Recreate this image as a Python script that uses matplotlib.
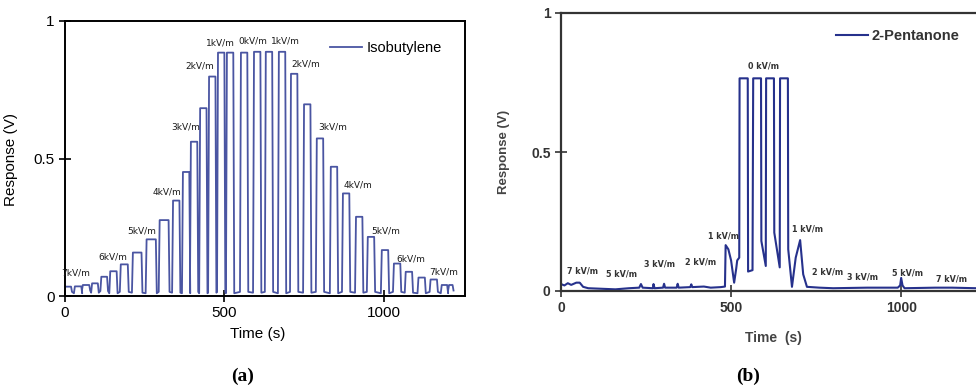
import matplotlib.pyplot as plt
import numpy as np

# ---- panel (a): Isobutylene, pulses ----
pulse_start = [0, 31, 56, 85, 114, 142, 175, 213, 256, 297, 339, 370, 395, 424, 452, 480, 508, 552, 593, 630, 671, 709, 750, 790, 834, 872, 913, 950, 994, 1032, 1069, 1109, 1147, 1182, 1205]
pulse_end = [19, 51, 76, 103, 132, 162, 197, 240, 285, 325, 359, 390, 415, 444, 472, 500, 528, 572, 613, 650, 691, 729, 770, 810, 854, 892, 933, 970, 1014, 1052, 1089, 1129, 1167, 1199, 1216]
pulse_height = [0.034, 0.035, 0.04, 0.046, 0.07, 0.09, 0.115, 0.158, 0.206, 0.276, 0.347, 0.451, 0.561, 0.683, 0.798, 0.885, 0.885, 0.885, 0.888, 0.888, 0.888, 0.808, 0.697, 0.573, 0.47, 0.373, 0.288, 0.215, 0.167, 0.118, 0.088, 0.067, 0.06, 0.04, 0.04]
base_a = [0.015, 0.01, 0.02, 0.012, 0.018, 0.01, 0.015, 0.012, 0.01, 0.015, 0.012, 0.01, 0.015, 0.01, 0.012, 0.015, 0.01, 0.015, 0.012, 0.015, 0.01, 0.015, 0.012, 0.015, 0.01, 0.015, 0.012, 0.015, 0.01, 0.015, 0.012, 0.01, 0.015, 0.01, 0.02]

labels_a = ['7kV/m', '6kV/m', '5kV/m', '4kV/m', '3kV/m', '2kV/m', '1kV/m', '0kV/m', '1kV/m', '2kV/m', '3kV/m', '4kV/m', '5kV/m', '6kV/m', '7kV/m']
label_t_a = [34, 150, 241, 320, 379, 423, 486, 589, 690, 755, 840, 918, 1006, 1085, 1188]
label_v_a = [0.084, 0.141, 0.236, 0.378, 0.615, 0.836, 0.92, 0.927, 0.927, 0.843, 0.615, 0.403, 0.236, 0.134, 0.087]

# ---- panel (b): 2-Pentanone trace ----
time_b = [0, 10, 20, 30, 45, 55, 65, 80, 120, 160, 200, 230, 235, 240, 270, 272, 275, 300, 303, 306, 340, 343, 346, 380, 383, 386, 420, 440, 470, 482, 484, 492, 500, 509, 515, 518, 524, 525, 549, 550, 563, 565, 588, 589, 602, 603, 626, 627, 643, 644, 667, 668, 679, 690, 703, 712, 723, 760, 800, 900, 990, 997, 1000, 1004, 1010, 1100, 1150, 1220]
resp_b = [0.025, 0.02, 0.028, 0.022, 0.03, 0.03, 0.015, 0.01, 0.008, 0.006, 0.01, 0.012, 0.025, 0.012, 0.01, 0.025, 0.01, 0.012, 0.026, 0.012, 0.012, 0.026, 0.012, 0.014, 0.024, 0.014, 0.016, 0.012, 0.014, 0.016, 0.165, 0.15, 0.11, 0.03, 0.08, 0.11, 0.12, 0.765, 0.765, 0.07, 0.075, 0.765, 0.765, 0.18, 0.09, 0.765, 0.765, 0.21, 0.085, 0.765, 0.765, 0.15, 0.015, 0.12, 0.183, 0.06, 0.015, 0.012, 0.01, 0.012, 0.012, 0.02, 0.047, 0.02, 0.01, 0.012, 0.012, 0.01]

labels_b = ['7 kV/m', '5 kV/m', '3 kV/m', '2 kV/m', '1 kV/m', '0 kV/m', '1 kV/m', '2 kV/m', '3 kV/m', '5 kV/m', '7 kV/m']
label_t_b = [62, 179, 291, 409, 479, 594, 726, 785, 885, 1018, 1147]
label_v_b = [0.072, 0.061, 0.097, 0.104, 0.198, 0.81, 0.223, 0.068, 0.05, 0.065, 0.043]

# build step trace for (a)
ta, va = [], []
for s, e, h, b in zip(pulse_start, pulse_end, pulse_height, base_a):
    ta += [s - 3, s, e, e + 3]
    va += [b, h, h, b]

fig = plt.figure(figsize=(9.76, 3.89), dpi=100)

ax = fig.add_axes([65 / 976, 93 / 389, 400 / 976, 275 / 389])
ax.plot(ta, va, color='#4a55a2', lw=1.3, label='Isobutylene')
ax.set_xlim(0, 1255)
ax.set_ylim(0, 1)
ax.set_xticks([0, 500, 1000])
ax.set_yticks([0, 0.5, 1])
ax.set_yticklabels(['0', '0.5', '1'])
for sp in ax.spines.values():
    sp.set_linewidth(1.4)
ax.tick_params(direction='inout', length=8, width=1.2, labelsize=11)
for t in ax.get_xticklabels() + ax.get_yticklabels():
    t.set_family('Liberation Sans')
ax.set_ylabel('Response (V)', family='Liberation Sans', fontsize=11)
ax.yaxis.set_label_coords(-0.118, 0.495)
ax.set_xlabel('Time (s)', family='Liberation Sans', fontsize=11)
ax.xaxis.set_label_coords(0.4825, -0.113)
for s, t, v in zip(labels_a, label_t_a, label_v_a):
    ax.text(t, v, s, fontsize=6.5, ha='center', va='center', color='#1a1a1a')
ax.legend(loc='center left', bbox_to_anchor=(0.6625, 0.902), frameon=False,
          borderpad=0, borderaxespad=0, handlelength=2.2, handletextpad=0.3,
          prop={'family': 'Liberation Sans', 'size': 10.5})

bx = fig.add_axes([561 / 976, 98 / 389, 415 / 976, 278 / 389])
bx.plot(time_b, resp_b, color='#26318c', lw=1.5, label='2-Pentanone')
bx.set_xlim(0, 1220)
bx.set_ylim(0, 1)
bx.set_xticks([0, 500, 1000])
bx.set_yticks([0, 0.5, 1])
bx.set_yticklabels(['0', '0.5', '1'])
bx.spines['right'].set_visible(False)
for sp in ['left', 'top', 'bottom']:
    bx.spines[sp].set_linewidth(1.6)
    bx.spines[sp].set_color('#333333')
bx.tick_params(direction='inout', length=8, width=1.2, labelsize=10, colors='#333333')
for t in bx.get_xticklabels() + bx.get_yticklabels():
    t.set_family('Liberation Sans')
    t.set_weight('bold')
bx.set_ylabel('Response (V)', family='Liberation Sans', fontsize=9.5, weight='bold', color='#444444')
bx.yaxis.set_label_coords(-0.123, 0.5)
bx.set_xlabel('Time  (s)', family='Liberation Sans', fontsize=10, weight='bold', color='#444444')
bx.xaxis.set_label_coords(0.513, -0.144)
for s, t, v in zip(labels_b, label_t_b, label_v_b):
    bx.text(t, v, s, fontsize=5.8, ha='center', va='center', color='#333333', weight='bold')
bx.legend(loc='center left', bbox_to_anchor=(0.663, 0.917), frameon=False,
          borderpad=0, borderaxespad=0, handlelength=2.2, handletextpad=0.2,
          prop={'family': 'Liberation Sans', 'size': 10.5, 'weight': 'bold'})
for t in bx.get_legend().get_texts():
    t.set_color('#333333')

fig.text(243 / 976, 1 - 376 / 389, '(a)', family='Liberation Serif', weight='bold', fontsize=14, ha='center', va='center')
fig.text(748 / 976, 1 - 376 / 389, '(b)', family='Liberation Serif', weight='bold', fontsize=14, ha='center', va='center')

fig.savefig('out.png', dpi=100)
